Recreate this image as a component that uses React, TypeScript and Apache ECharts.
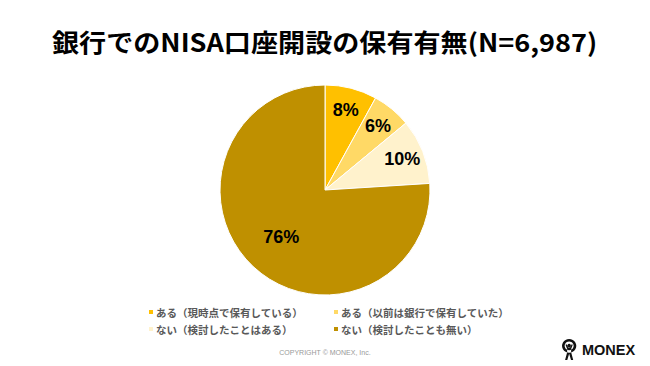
import React, { useEffect, useRef } from "react";
import * as echarts from "echarts";

const categories = [
  "ある（現時点で保有している）",
  "ある（以前は銀行で保有していた）",
  "ない（検討したことはある）",
  "ない（検討したことも無い）",
];
const values = [8, 6, 10, 76];
const colors = ["#FFC000", "#FFD966", "#FFF2CC", "#BF9000"];
const titleText = "銀行でのNISA口座開設の保有有無(N=6,987)";

const logoPath =
  "M6.5 0 A6.5 6.5 0 1 0 6.51 0 Z M6.5 2.4 A4.1 4.1 0 1 1 6.49 2.4 Z " +
  "M6.5 4.6 A1.6 1.6 0 1 1 6.49 4.6 Z " +
  "M3.2 5.5 L4.2 5.0 L5.6 8.2 L7.4 8.2 L8.8 5.0 L9.8 5.5 L8.3 9.6 L8.3 12.5 L10.2 20 L8.2 20 L6.5 14 L4.8 20 L2.8 20 L4.7 12.5 L4.7 9.6 Z";

export default function App() {
  const ref = useRef<HTMLDivElement>(null);
  useEffect(() => {
    if (!ref.current) return;
    echarts.graphic.registerShape("logo", echarts.graphic.extendPath(logoPath, {}));
    const chart = echarts.init(ref.current, null, { renderer: "svg" });
    const data = categories.map((name, i) => ({
      name,
      value: values[i],
      itemStyle: { color: colors[i] },
    }));
    const labelData = (show: number[]) =>
      categories.map((name, i) => ({
        name,
        value: values[i],
        label: { show: show.includes(i) },
      }));
    const labelStyle = {
      position: "inside",
      formatter: "{c}%",
      color: "#000",
      fontSize: 18,
      fontWeight: "bold",
      fontFamily: "Liberation Sans, Arial, sans-serif",
    };
    const legendBase = {
      orient: "vertical",
      icon: "rect",
      itemWidth: 6,
      itemHeight: 6,
      itemGap: 5,
      selectedMode: false,
      textStyle: {
        fontSize: 10.5,
        lineHeight: 12,
        fontWeight: "bold",
        color: "#595959",
        fontFamily: "Noto Sans CJK JP, sans-serif",
        padding: [0, 0, 0, -3],
      },
    };
    chart.setOption({
      animation: false,
      backgroundColor: "#fff",
      legend: [
        { ...legendBase, left: 142, top: 301, data: [categories[0], categories[2]] },
        { ...legendBase, left: 327, top: 301, data: [categories[1], categories[3]] },
      ],
      series: [
        {
          type: "pie",
          center: [325, 190],
          radius: [0, 105],
          startAngle: 90,
          clockwise: true,
          label: { show: false },
          labelLine: { show: false },
          itemStyle: { borderColor: "#fff", borderWidth: 1 },
          data,
        },
        {
          type: "pie",
          silent: true,
          center: [325, 190],
          radius: [55, 105],
          startAngle: 90,
          clockwise: true,
          itemStyle: { color: "rgba(0,0,0,0)" },
          label: labelStyle,
          labelLine: { show: false },
          data: labelData([0, 1, 2]),
        },
        {
          type: "pie",
          silent: true,
          center: [325, 190],
          radius: [17, 105],
          startAngle: 90,
          clockwise: true,
          itemStyle: { color: "rgba(0,0,0,0)" },
          label: labelStyle,
          labelLine: { show: false },
          data: labelData([3]),
        },
      ],
      graphic: [
        {
          type: "text",
          x: 52,
          y: 29,
          scaleX: 1.084,
          style: {
            text: titleText,
            fontSize: 25,
            fontWeight: "bold",
            fill: "#000",
            fontFamily: "Noto Sans CJK JP, sans-serif",
          },
        },
        {
          type: "text",
          left: "center",
          top: 349,
          style: {
            text: "COPYRIGHT © MONEX, Inc.",
            fontSize: 7,
            fill: "#999",
            fontFamily: "Liberation Sans, Arial, sans-serif",
          },
        },
        {
          type: "logo",
          x: 562,
          y: 339,
          scaleX: 1.1,
          scaleY: 1.05,
          style: { fill: "#111" },
        },
        {
          type: "text",
          left: 582,
          top: 342,
          style: {
            text: "MONEX",
            fontSize: 14.5,
            fontWeight: "bold",
            fill: "#111",
            fontFamily: "Liberation Sans, Arial, sans-serif",
          },
        },
      ],
    });
    return () => chart.dispose();
  }, []);
  return <div ref={ref} style={{ width: 650, height: 366, position: "absolute", left: 0, top: 0 }} />;
}
